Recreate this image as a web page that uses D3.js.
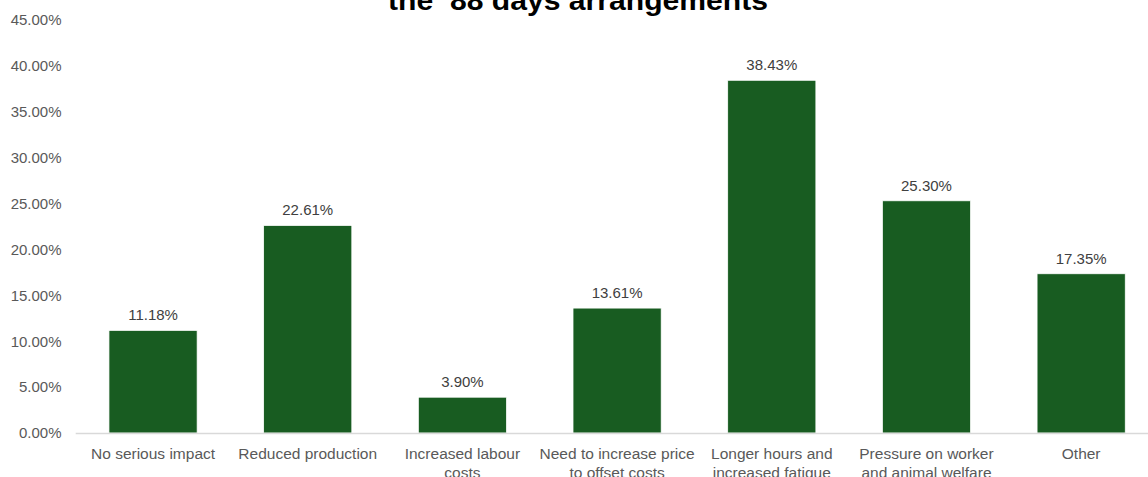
<!DOCTYPE html>
<html>
<head>
<meta charset="utf-8">
<script src="https://cdn.jsdelivr.net/npm/d3@7/dist/d3.min.js"></script>
<style>
  html, body { margin: 0; padding: 0; background: #ffffff; }
  svg { display: block; font-family: "Liberation Sans", Arial, sans-serif; }
</style>
</head>
<body>
<svg id="chart" width="1148" height="477"></svg>
<script>
// Survey responses: impact of the 88 days arrangements
const categories = [
  "No serious impact",
  "Reduced production",
  "Increased labour costs",
  "Need to increase price to offset costs",
  "Longer hours and increased fatigue",
  "Pressure on worker and animal welfare",
  "Other"
];
// Wrapped category labels (one entry per line)
const categoryLines = [
  ["No serious impact"],
  ["Reduced production"],
  ["Increased labour", "costs"],
  ["Need to increase price", "to offset costs"],
  ["Longer hours and", "increased fatigue"],
  ["Pressure on worker", "and animal welfare"],
  ["Other"]
];
const shares = [11.18, 22.61, 3.90, 13.61, 38.43, 25.30, 17.35];
const yTicks = [0, 5, 10, 15, 20, 25, 30, 35, 40, 45];
const titleText = "the \u201988 days arrangements";

const svg = d3.select("#chart");
const W = 1148, H = 477;
const plot = { left: 75.7, right: 1158.5, top: 20, bottom: 433 };

const x = d3.scaleBand()
  .domain(categories)
  .range([plot.left, plot.right])
  .paddingInner(0.43)
  .paddingOuter(0.215);

const y = d3.scaleLinear()
  .domain([0, 45])
  .range([plot.bottom, plot.top]);

// Title (second line of a wrapped heading)
svg.append("text")
  .attr("x", 578)
  .attr("y", 10)
  .attr("text-anchor", "middle")
  .attr("font-size", 27)
  .attr("font-weight", "bold")
  .attr("fill", "#000000")
  .attr("textLength", 380)
  .attr("lengthAdjust", "spacingAndGlyphs")
  .text(titleText);

// Y axis labels
const yAxis = d3.axisLeft(y)
  .tickValues(yTicks)
  .tickSize(0)
  .tickPadding(0)
  .tickFormat(d => d.toFixed(2) + "%");
const yg = svg.append("g")
  .attr("transform", `translate(61.5,0)`)
  .call(yAxis);
yg.select(".domain").remove();
yg.selectAll("text")
  .attr("font-size", 15)
  .attr("fill", "#595959")
  .attr("font-family", "Liberation Sans, Arial, sans-serif");

// Bars
svg.append("g").selectAll("rect")
  .data(shares)
  .join("rect")
  .attr("x", (d, i) => x(categories[i]))
  .attr("y", d => y(d))
  .attr("width", x.bandwidth())
  .attr("height", d => y(0) - y(d))
  .attr("fill", "#185c21")
  .attr("stroke", "#ffffff")
  .attr("stroke-width", 0.75);

// Baseline
const xAxis = d3.axisBottom(x).tickSize(0).tickFormat("");
const xg = svg.append("g")
  .attr("transform", `translate(0,${plot.bottom})`)
  .call(xAxis);
xg.select(".domain")
  .attr("d", `M${plot.left},0.5H${W}`)
  .attr("stroke", "#d9d9d9")
  .attr("stroke-width", 1.3);

// Category labels
const catG = svg.append("g");
categoryLines.forEach((lines, i) => {
  const cx = x(categories[i]) + x.bandwidth() / 2;
  const t = catG.append("text")
    .attr("text-anchor", "middle")
    .attr("font-size", 15.5)
    .attr("fill", "#595959");
  lines.forEach((ln, j) => {
    t.append("tspan")
      .attr("x", cx)
      .attr("y", 458.5 + j * 19.5)
      .text(ln);
  });
});

// Value labels
svg.append("g").selectAll("text")
  .data(shares)
  .join("text")
  .attr("x", (d, i) => x(categories[i]) + x.bandwidth() / 2)
  .attr("y", d => y(d) - 10)
  .attr("text-anchor", "middle")
  .attr("font-size", 15)
  .attr("fill", "#404040")
  .text(d => d.toFixed(2) + "%");
</script>
</body>
</html>
